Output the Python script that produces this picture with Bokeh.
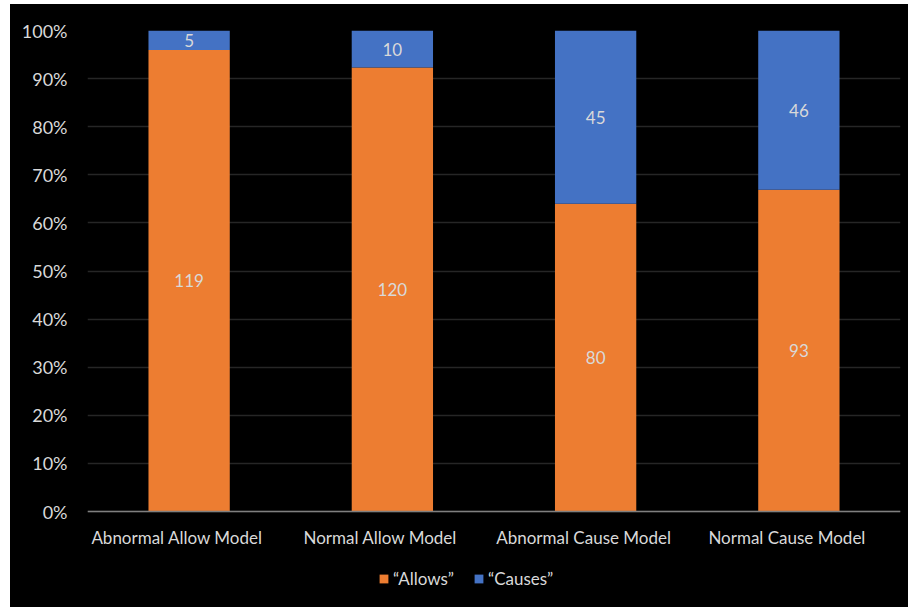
from bokeh.plotting import figure
from bokeh.models import (ColumnDataSource, FactorRange, Range1d, FixedTicker,
                          NumeralTickFormatter, Legend, LegendItem, Spacer, Span)
from bokeh.layouts import column, row
from bokeh.core.properties import value
from bokeh.embed import file_html
from bokeh.resources import INLINE

# Response counts per model condition
categories = ["Abnormal Allow Model", "Normal Allow Model",
              "Abnormal Cause Model", "Normal Cause Model"]
allows = [119, 120, 80, 93]
causes = [5, 10, 45, 46]
y_ticks = [0.0, 0.1, 0.2, 0.3, 0.4, 0.5, 0.6, 0.7, 0.8, 0.9, 1.0]

ORANGE = "#ED7D31"
BLUE = "#4472C4"
TEXT = "#d9d9d9"
FONT = "Lato"

# The frame reaches down to the page bottom so the category labels and the
# legend sit inside it, below the 0% baseline.
PX_PER_UNIT = 481      # height of the 0..100% band in pixels
BELOW_PX = 96          # room under the baseline for labels and legend
y_min = -BELOW_PX / PX_PER_UNIT

totals = [a + c for a, c in zip(allows, causes)]
allows_frac = [a / t for a, t in zip(allows, totals)]
causes_frac = [c / t for c, t in zip(causes, totals)]

src = ColumnDataSource(dict(
    cat=categories,
    allows=allows_frac,
    causes=causes_frac,
    allows_mid=[f / 2 for f in allows_frac],
    causes_mid=[a + c / 2 for a, c in zip(allows_frac, causes_frac)],
    allows_lbl=[str(v) for v in allows],
    causes_lbl=[str(v) for v in causes],
    base=[0.0] * len(categories),
))

p = figure(frame_width=813, frame_height=PX_PER_UNIT + BELOW_PX,
           x_range=FactorRange(*categories, range_padding=0),
           y_range=Range1d(y_min, 1), output_backend="svg", toolbar_location=None,
           background_fill_color=None, border_fill_color="black",
           outline_line_color=None,
           min_border_left=77, min_border_right=8, min_border_top=26,
           min_border_bottom=0,
           styles={"background-color": "black"})

renderers = p.vbar_stack(["allows", "causes"], x="cat", width=0.4,
                         color=[ORANGE, BLUE], line_color=None, source=src)

p.text(x="cat", y="allows_mid", text="allows_lbl", source=src,
       text_align="center", text_baseline="middle", text_color=TEXT,
       text_font=value(FONT), text_font_size="17px")
p.text(x="cat", y="causes_mid", text="causes_lbl", source=src,
       text_align="center", text_baseline="middle", text_color=TEXT,
       text_font=value(FONT), text_font_size="17px")

# Category labels under the baseline
p.text(x="cat", y="base", text="cat", source=src, x_offset=-12, y_offset=26,
       text_align="center", text_baseline="middle", text_color=TEXT,
       text_font=value(FONT), text_font_size="17px")

# Baseline
p.add_layout(Span(location=0, dimension="width", line_color="#7f7f7f",
                  line_width=1.5))

# Axes
p.xaxis.visible = False
p.yaxis.ticker = FixedTicker(ticks=y_ticks)
p.yaxis.formatter = NumeralTickFormatter(format="0%")
p.yaxis.bounds = (0, 1)
p.yaxis.axis_line_color = None
p.yaxis.major_tick_line_color = None
p.yaxis.minor_tick_line_color = None
p.yaxis.major_label_standoff = 14
p.yaxis.major_label_text_color = TEXT
p.yaxis.major_label_text_font = FONT
p.yaxis.major_label_text_font_size = "18px"

p.xgrid.grid_line_color = None
p.ygrid.grid_line_color = "#262626"
p.ygrid.grid_line_width = 1.5

legend = Legend(items=[LegendItem(label="\u201cAllows\u201d", renderers=[renderers[0]]),
                       LegendItem(label="\u201cCauses\u201d", renderers=[renderers[1]])],
                orientation="horizontal", location=(291, 18),
                background_fill_alpha=0, border_line_color=None,
                label_text_color=TEXT, label_text_font=FONT,
                label_text_font_size="17px", glyph_width=11, glyph_height=11,
                label_height=20, spacing=19, label_standoff=4, margin=0,
                padding=0)
p.add_layout(legend, "center")

layout = column(Spacer(height=4), row(Spacer(width=10), p))

open("out.html", "w").write(file_html(layout, INLINE))
